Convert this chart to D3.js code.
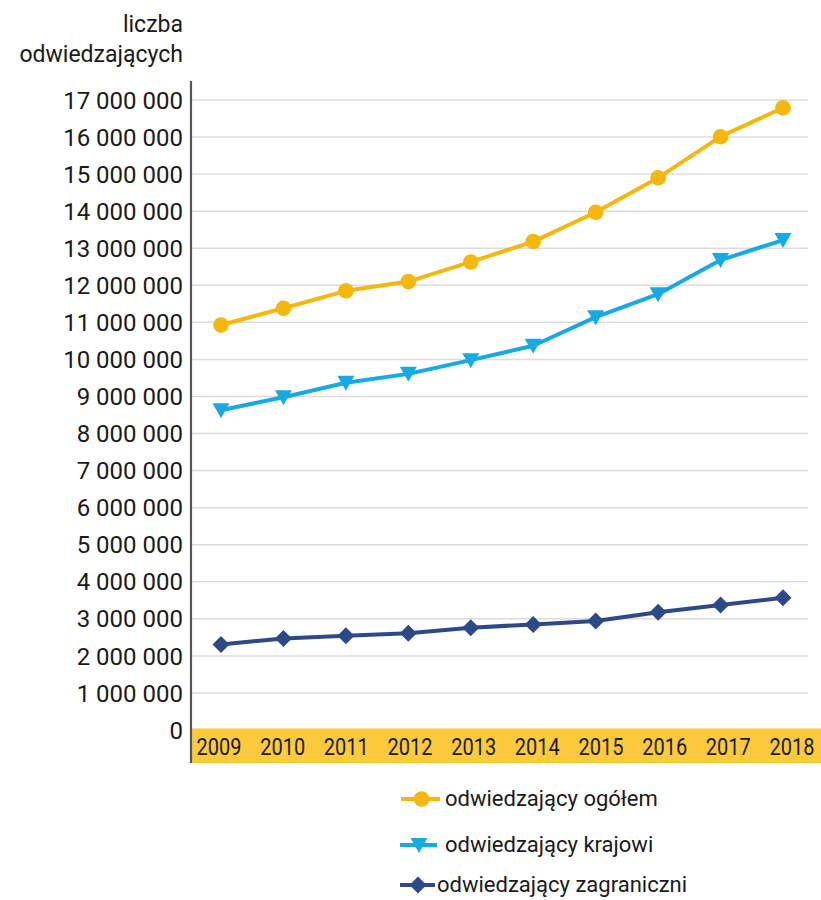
<!DOCTYPE html>
<html>
<head>
<meta charset="utf-8">
<script src="https://cdn.jsdelivr.net/npm/d3@7"></script>
<style>
  html, body { margin: 0; padding: 0; background: #fff; }
  svg { display: block; font-family: Roboto, "Noto Sans", sans-serif; }
</style>
</head>
<body>
<svg id="chart" width="821" height="900"></svg>
<script>
const years = ["2009","2010","2011","2012","2013","2014","2015","2016","2017","2018"];
const totalVisitors    = [10930000, 11380000, 11850000, 12100000, 12630000, 13180000, 13970000, 14900000, 16010000, 16790000];
const domesticVisitors = [8630000, 8980000, 9370000, 9610000, 9980000, 10370000, 11140000, 11760000, 12680000, 13220000];
const foreignVisitors  = [2310000, 2470000, 2540000, 2610000, 2760000, 2850000, 2940000, 3180000, 3370000, 3570000];
const yTicks = [0, 1000000, 2000000, 3000000, 4000000, 5000000, 6000000, 7000000, 8000000, 9000000, 10000000, 11000000, 12000000, 13000000, 14000000, 15000000, 16000000, 17000000];
const seriesNames = ["odwiedzający ogółem", "odwiedzający krajowi", "odwiedzający zagraniczni"];
const titleLines = ["liczba", "odwiedzających"];

const colors = ["#F6B70D", "#17A9E1", "#2D4987"];
const symbols = ["circle", "triangle", "diamond"];

const svg = d3.select("#chart");
const y = d3.scaleLinear().domain([0, 17000000]).range([730, 100]);
const x = d3.scalePoint().domain(years).range([221, 783]);
const xLab = d3.scalePoint().domain(years).range([219, 792]);
const fmt = d3.formatLocale({decimal: ",", thousands: " ", grouping: [3], currency: ["", ""]}).format(",d");

// gridlines
svg.append("g").selectAll("line").data(yTicks.filter(d => d > 0)).join("line")
  .attr("x1", 192).attr("x2", 808)
  .attr("y1", d => y(d)).attr("y2", d => y(d))
  .attr("stroke", "#DCDCDC").attr("stroke-width", 1.5);

// x band
svg.append("rect").attr("x", 191).attr("y", y(0) - 1.5).attr("width", 821 - 191).attr("height", 34.5)
  .attr("fill", "#FCCA3C");

// y axis line
svg.append("line").attr("x1", 191).attr("x2", 191).attr("y1", 81).attr("y2", 763)
  .attr("stroke", "#555").attr("stroke-width", 2.2);

// y tick labels
svg.append("g").selectAll("text").data(yTicks).join("text")
  .attr("x", 183).attr("y", d => y(d)).attr("dy", "0.36em")
  .attr("text-anchor", "end").attr("font-size", 24).attr("fill", "#1a1a1a")
  .text(d => fmt(d));

// x labels
svg.append("g").selectAll("text").data(years).join("text")
  .attr("x", d => xLab(d)).attr("y", 755)
  .attr("text-anchor", "middle").attr("font-size", 23).attr("fill", "#1a1a1a")
  .attr("textLength", 45).attr("lengthAdjust", "spacingAndGlyphs")
  .text(d => d);

// title
svg.append("g").selectAll("text").data(titleLines).join("text")
  .attr("x", 183).attr("y", (d, i) => 32 + i * 30)
  .attr("text-anchor", "end").attr("font-size", 23).attr("fill", "#1a1a1a")
  .text(d => d);

function marker(g, type, cx, cy, color) {
  if (type === "circle") {
    g.append("circle").attr("cx", cx).attr("cy", cy).attr("r", 7.8).attr("fill", color);
  } else if (type === "triangle") {
    g.append("path").attr("d", `M${cx-8.5},${cy-7} L${cx+8.5},${cy-7} L${cx},${cy+8} Z`).attr("fill", color);
  } else {
    g.append("path").attr("d", `M${cx},${cy-8.5} L${cx+8.5},${cy} L${cx},${cy+8.5} L${cx-8.5},${cy} Z`).attr("fill", color);
  }
}

const allSeries = [totalVisitors, domesticVisitors, foreignVisitors];
const line = d3.line().x((d, i) => x(years[i])).y(d => y(d));
allSeries.forEach((vals, s) => {
  const g = svg.append("g");
  g.append("path").datum(vals).attr("d", line)
    .attr("fill", "none").attr("stroke", colors[s]).attr("stroke-width", 4)
    .attr("stroke-linejoin", "round");
  vals.forEach((v, i) => marker(g, symbols[s], x(years[i]), y(v), colors[s]));
});

// legend
const legY = [799, 845, 885];
const legLine = [[401, 440, 421.5, 445], [400, 437, 419, 445], [400, 435, 418, 437]];
seriesNames.forEach((name, s) => {
  const g = svg.append("g");
  g.append("line").attr("x1", legLine[s][0]).attr("x2", legLine[s][1])
    .attr("y1", legY[s]).attr("y2", legY[s])
    .attr("stroke", colors[s]).attr("stroke-width", 4);
  marker(g, symbols[s], legLine[s][2], legY[s], colors[s]);
  g.append("text").attr("x", legLine[s][3]).attr("y", legY[s]).attr("dy", "0.33em")
    .attr("font-size", 22).attr("fill", "#1a1a1a").text(name);
});
</script>
</body>
</html>
